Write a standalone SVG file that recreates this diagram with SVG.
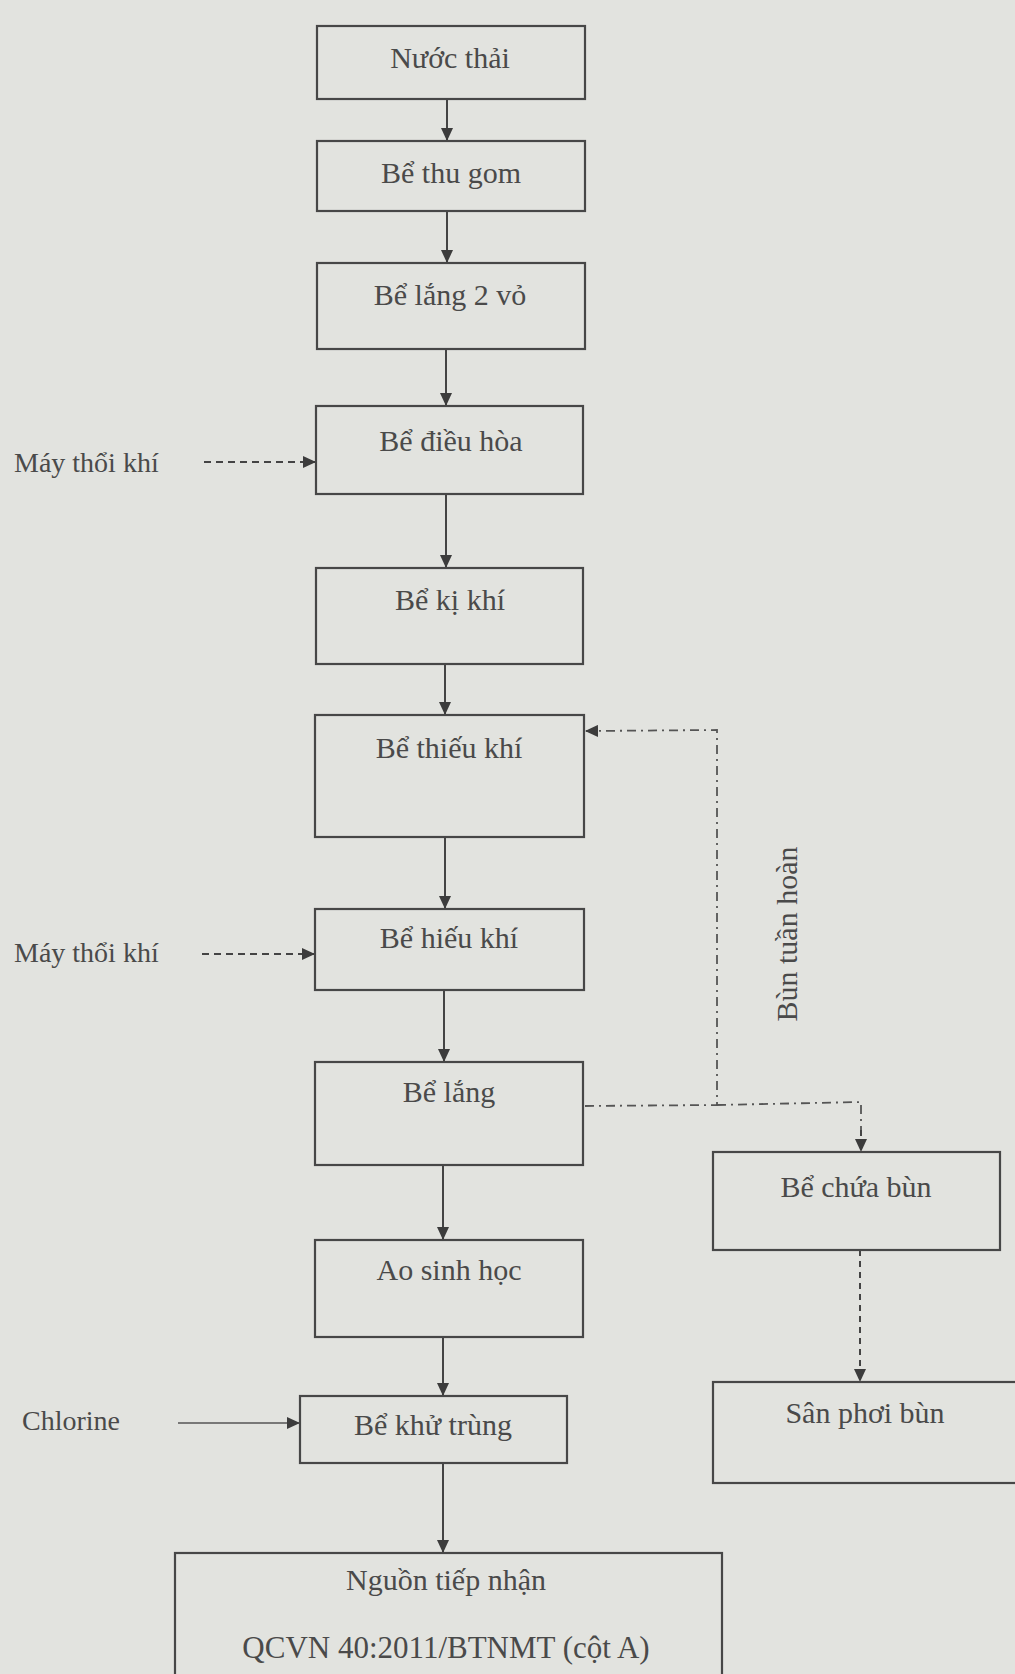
<svg xmlns="http://www.w3.org/2000/svg" width="1015" height="1674" viewBox="0 0 1015 1674">
  <style>
    .box { fill: none; stroke: #474747; stroke-width: 2.2; }
    .lbl { font-family: "Liberation Serif", "Times New Roman", serif; font-size: 30px; fill: #4a4a4a; text-anchor: middle; }
    .side { font-family: "Liberation Serif", "Times New Roman", serif; font-size: 28px; fill: #4a4a4a; }
    .flow { fill: none; stroke: #444; stroke-width: 2; }
    .air { fill: none; stroke: #444; stroke-width: 2; stroke-dasharray: 7 5; }
    .recyc { fill: none; stroke: #555; stroke-width: 1.8; stroke-dasharray: 9 5 2 5; }
    .sludge { fill: none; stroke: #444; stroke-width: 2; stroke-dasharray: 6 5; }
    .chl { fill: none; stroke: #555; stroke-width: 1.5; }
  </style>
  <defs>
    <marker id="ah" markerUnits="userSpaceOnUse" markerWidth="13" markerHeight="12" viewBox="0 0 13 12" refX="12" refY="6" orient="auto">
      <path d="M0,0 L13,6 L0,12 z" fill="#3c3c3c"/>
    </marker>
  </defs>
  <rect x="0" y="0" width="1015" height="1674" fill="#e2e3df"/>

  <g id="connectors">
    <line class="flow" x1="447" y1="99" x2="447" y2="140" marker-end="url(#ah)"/>
    <line class="flow" x1="447" y1="211" x2="447" y2="262" marker-end="url(#ah)"/>
    <line class="flow" x1="446" y1="349" x2="446" y2="405" marker-end="url(#ah)"/>
    <line class="flow" x1="446" y1="494" x2="446" y2="567" marker-end="url(#ah)"/>
    <line class="flow" x1="445" y1="664" x2="445" y2="714" marker-end="url(#ah)"/>
    <line class="flow" x1="445" y1="837" x2="445" y2="908" marker-end="url(#ah)"/>
    <line class="flow" x1="444" y1="990" x2="444" y2="1061" marker-end="url(#ah)"/>
    <line class="flow" x1="443" y1="1165" x2="443" y2="1239" marker-end="url(#ah)"/>
    <line class="flow" x1="443" y1="1337" x2="443" y2="1395" marker-end="url(#ah)"/>
    <line class="flow" x1="443" y1="1463" x2="443" y2="1552" marker-end="url(#ah)"/>
    <line class="air" x1="204" y1="462" x2="315" y2="462" marker-end="url(#ah)"/>
    <line class="air" x1="202" y1="954" x2="314" y2="954" marker-end="url(#ah)"/>
    <line class="chl" x1="178" y1="1423" x2="299" y2="1423" marker-end="url(#ah)"/>
    <polyline class="recyc" points="585,1106 717,1105 717,730 586,731" marker-end="url(#ah)"/>
    <polyline class="recyc" points="717,1105 861,1102 861,1130"/>
    <line class="sludge" x1="861" y1="1130" x2="861" y2="1151" marker-end="url(#ah)"/>
    <line class="sludge" x1="860" y1="1250" x2="860" y2="1381" marker-end="url(#ah)"/>
    <text class="lbl" transform="translate(797,934) rotate(-90)">Bùn tuần hoàn</text>
  </g>

  <g id="nuoc-thai">
    <rect class="box" x="317" y="26" width="268" height="73"/>
    <text class="lbl" x="450" y="68">Nước thải</text>
  </g>
  <g id="be-thu-gom">
    <rect class="box" x="317" y="141" width="268" height="70"/>
    <text class="lbl" x="451" y="183">Bể thu gom</text>
  </g>
  <g id="be-lang-2-vo">
    <rect class="box" x="317" y="263" width="268" height="86"/>
    <text class="lbl" x="450" y="305">Bể lắng 2 vỏ</text>
  </g>
  <g id="may-thoi-khi-1">
    <text class="side" x="14" y="472">Máy thổi khí</text>
  </g>
  <g id="be-dieu-hoa">
    <rect class="box" x="316" y="406" width="267" height="88"/>
    <text class="lbl" x="451" y="451">Bể điều hòa</text>
  </g>
  <g id="be-ki-khi">
    <rect class="box" x="316" y="568" width="267" height="96"/>
    <text class="lbl" x="450" y="610">Bể kị khí</text>
  </g>
  <g id="be-thieu-khi">
    <rect class="box" x="315" y="715" width="269" height="122"/>
    <text class="lbl" x="449" y="758">Bể thiếu khí</text>
  </g>
  <g id="may-thoi-khi-2">
    <text class="side" x="14" y="962">Máy thổi khí</text>
  </g>
  <g id="be-hieu-khi">
    <rect class="box" x="315" y="909" width="269" height="81"/>
    <text class="lbl" x="449" y="948">Bể hiếu khí</text>
  </g>
  <g id="be-lang">
    <rect class="box" x="315" y="1062" width="268" height="103"/>
    <text class="lbl" x="449" y="1102">Bể lắng</text>
  </g>
  <g id="ao-sinh-hoc">
    <rect class="box" x="315" y="1240" width="268" height="97"/>
    <text class="lbl" x="449" y="1280">Ao sinh học</text>
  </g>
  <g id="chlorine">
    <text class="side" x="22" y="1430">Chlorine</text>
  </g>
  <g id="be-khu-trung">
    <rect class="box" x="300" y="1396" width="267" height="67"/>
    <text class="lbl" x="433" y="1435">Bể khử trùng</text>
  </g>
  <g id="nguon-tiep-nhan">
    <rect class="box" x="175" y="1553" width="547" height="140"/>
    <text class="lbl" x="446" y="1590">Nguồn tiếp nhận</text>
    <text class="lbl" x="446" y="1658" style="font-size:31px">QCVN 40:2011/BTNMT (cột A)</text>
  </g>
  <g id="be-chua-bun">
    <rect class="box" x="713" y="1152" width="287" height="98"/>
    <text class="lbl" x="856" y="1197">Bể chứa bùn</text>
  </g>
  <g id="san-phoi-bun">
    <rect class="box" x="713" y="1382" width="320" height="101"/>
    <text class="lbl" x="865" y="1423">Sân phơi bùn</text>
  </g>
</svg>
